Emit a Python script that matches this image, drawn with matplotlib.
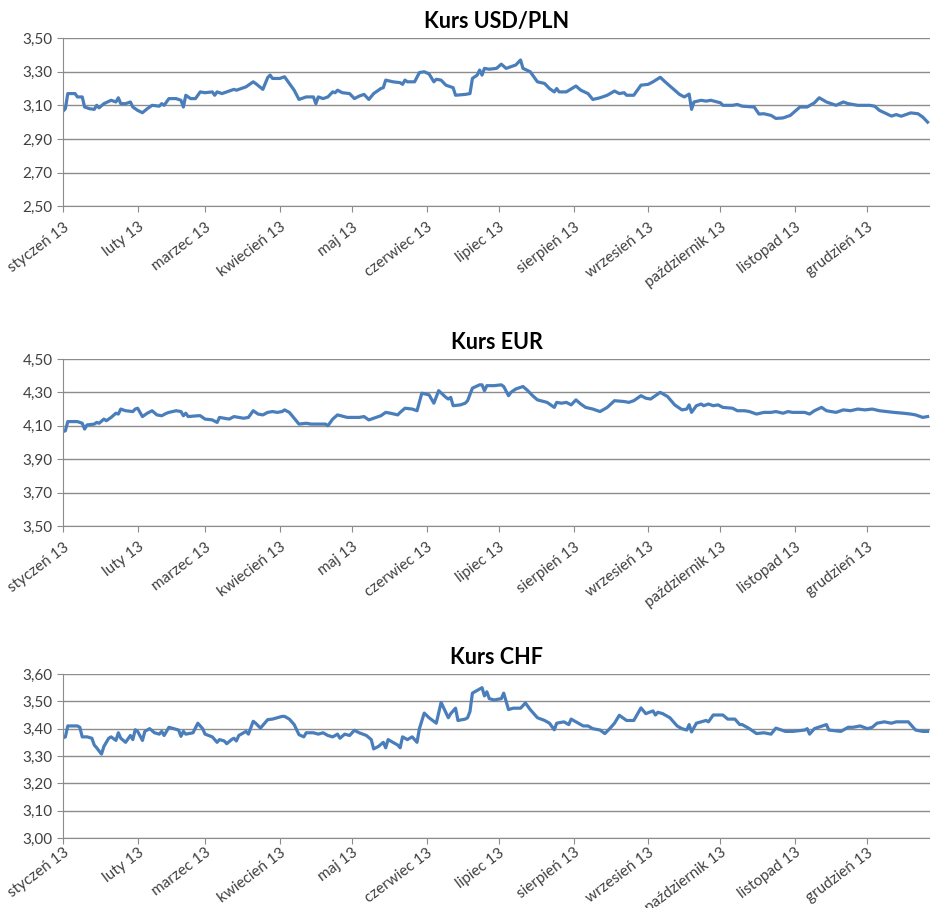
import numpy as np
import matplotlib.pyplot as plt
import matplotlib.transforms as mtransforms

plt.rcParams['font.family'] = ['Lato', 'DejaVu Sans']

# notowania (dzień roku liczony od 1 stycznia 2013, kurs)
usd_day = [0, 1, 2, 5, 6, 8, 9, 11, 13, 14, 15, 17, 20, 22, 23, 24, 26, 28, 29, 31,
           33, 35, 37, 40, 41, 42, 44, 47, 49, 50, 51, 53, 55, 57, 59, 62, 63, 64, 66, 68,
           71, 72, 74, 76, 79, 80, 83, 85, 86, 87, 90, 92, 94, 96, 98, 101, 103, 104, 105, 106,
           108, 110, 112, 113, 114, 116, 119, 121, 123, 125, 127, 129, 132, 133, 134, 137, 140, 141, 142, 143,
           146, 148, 150, 152, 154, 155, 157, 159, 162, 163, 167, 169, 170, 172, 173, 174, 175, 177, 180, 182,
           184, 186, 188, 190, 191, 194, 197, 200, 202, 204, 205, 206, 209, 213, 215, 218, 220, 223, 226, 229,
           231, 233, 234, 237, 240, 243, 245, 248, 250, 254, 256, 258, 260, 261, 262, 265, 267, 269, 273, 274,
           278, 280, 282, 287, 289, 291, 294, 296, 299, 302, 306, 309, 312, 314, 317, 319, 321, 324, 326, 330,
           335, 337, 339, 344, 346, 348, 352, 355, 357, 359]
usd_val = [3.065, 3.08, 3.17, 3.17, 3.15, 3.15, 3.09, 3.08, 3.076, 3.10, 3.085, 3.11, 3.13, 3.12, 3.145, 3.11, 3.11, 3.12, 3.09, 3.07,
           3.056, 3.08, 3.10, 3.095, 3.11, 3.10, 3.14, 3.14, 3.13, 3.09, 3.16, 3.14, 3.14, 3.18, 3.175, 3.18, 3.16, 3.18, 3.17, 3.18,
           3.195, 3.19, 3.20, 3.21, 3.24, 3.23, 3.195, 3.265, 3.28, 3.26, 3.26, 3.27, 3.23, 3.19, 3.135, 3.15, 3.15, 3.15, 3.11, 3.15,
           3.14, 3.15, 3.18, 3.175, 3.19, 3.175, 3.17, 3.14, 3.155, 3.165, 3.135, 3.17, 3.20, 3.205, 3.25, 3.24, 3.235, 3.225, 3.25, 3.24,
           3.24, 3.295, 3.30, 3.287, 3.24, 3.255, 3.25, 3.22, 3.205, 3.16, 3.165, 3.17, 3.26, 3.28, 3.31, 3.28, 3.32, 3.315, 3.32, 3.345,
           3.32, 3.33, 3.34, 3.37, 3.32, 3.30, 3.24, 3.23, 3.20, 3.18, 3.20, 3.18, 3.18, 3.215, 3.19, 3.17, 3.135, 3.145, 3.16, 3.185,
           3.17, 3.175, 3.16, 3.16, 3.22, 3.225, 3.24, 3.267, 3.24, 3.19, 3.165, 3.15, 3.167, 3.076, 3.12, 3.13, 3.125, 3.13, 3.115, 3.10,
           3.10, 3.105, 3.095, 3.09, 3.048, 3.05, 3.04, 3.022, 3.025, 3.04, 3.09, 3.09, 3.115, 3.145, 3.12, 3.11, 3.10, 3.12, 3.11, 3.10,
           3.10, 3.095, 3.07, 3.036, 3.045, 3.035, 3.055, 3.05, 3.03, 3.00]

eur_day = [0, 1, 2, 4, 6, 8, 9, 10, 13, 14, 15, 17, 18, 20, 22, 23, 24, 26, 29, 30,
           31, 33, 35, 37, 39, 41, 43, 44, 47, 49, 50, 51, 52, 56, 57, 59, 62, 64, 65, 67,
           69, 71, 73, 75, 77, 79, 81, 83, 85, 87, 89, 91, 92, 94, 96, 98, 101, 103, 106, 109,
           110, 112, 114, 118, 121, 123, 125, 127, 130, 132, 134, 136, 139, 140, 142, 145, 147, 149, 152, 154,
           156, 159, 160, 161, 162, 165, 167, 168, 170, 173, 174, 175, 176, 179, 182, 183, 185, 186, 188, 191,
           193, 195, 197, 201, 204, 205, 207, 209, 211, 213, 215, 217, 220, 223, 226, 229, 233, 235, 237, 240,
           242, 244, 246, 248, 251, 254, 257, 259, 260, 261, 263, 265, 266, 268, 270, 272, 274, 278, 280, 283,
           285, 288, 291, 294, 296, 299, 301, 303, 308, 310, 312, 315, 317, 321, 324, 327, 330, 333, 336, 339,
           342, 345, 349, 352, 354, 357, 359]
eur_val = [4.065, 4.07, 4.125, 4.125, 4.125, 4.115, 4.08, 4.105, 4.11, 4.12, 4.115, 4.14, 4.13, 4.15, 4.175, 4.17, 4.20, 4.19, 4.185, 4.20,
           4.205, 4.155, 4.175, 4.19, 4.165, 4.16, 4.175, 4.18, 4.19, 4.185, 4.16, 4.175, 4.155, 4.16, 4.16, 4.14, 4.135, 4.12, 4.15, 4.145,
           4.14, 4.155, 4.15, 4.145, 4.15, 4.19, 4.17, 4.165, 4.18, 4.185, 4.18, 4.185, 4.195, 4.18, 4.145, 4.11, 4.115, 4.11, 4.11, 4.11,
           4.10, 4.14, 4.165, 4.15, 4.15, 4.15, 4.155, 4.135, 4.15, 4.16, 4.18, 4.175, 4.165, 4.18, 4.205, 4.20, 4.19, 4.295, 4.285, 4.235,
           4.31, 4.27, 4.26, 4.27, 4.22, 4.225, 4.235, 4.25, 4.325, 4.345, 4.345, 4.31, 4.34, 4.34, 4.345, 4.335, 4.28, 4.30, 4.32, 4.335,
           4.31, 4.28, 4.255, 4.24, 4.21, 4.24, 4.235, 4.24, 4.225, 4.255, 4.23, 4.21, 4.20, 4.185, 4.21, 4.25, 4.245, 4.24, 4.25, 4.28,
           4.265, 4.26, 4.28, 4.30, 4.275, 4.225, 4.195, 4.20, 4.225, 4.18, 4.22, 4.23, 4.22, 4.23, 4.22, 4.225, 4.21, 4.205, 4.19, 4.19,
           4.185, 4.17, 4.18, 4.18, 4.185, 4.175, 4.185, 4.18, 4.18, 4.17, 4.19, 4.21, 4.19, 4.18, 4.195, 4.19, 4.20, 4.195, 4.20, 4.19,
           4.185, 4.18, 4.175, 4.17, 4.165, 4.15, 4.155]

chf_day = [0, 1, 2, 4, 6, 7, 8, 10, 12, 13, 14, 16, 17, 19, 20, 22, 23, 24, 26, 28,
           29, 30, 31, 33, 34, 36, 38, 40, 41, 42, 44, 46, 48, 49, 50, 51, 54, 56, 58, 59,
           62, 64, 65, 67, 68, 70, 71, 72, 73, 75, 76, 77, 79, 80, 82, 85, 87, 89, 91, 92,
           94, 96, 98, 100, 101, 104, 106, 108, 110, 112, 114, 115, 117, 119, 121, 123, 126, 128, 129, 131,
           133, 134, 135, 137, 139, 140, 141, 143, 145, 147, 148, 150, 152, 155, 157, 160, 161, 163, 164, 167,
           168, 169, 170, 173, 174, 175, 176, 177, 179, 182, 183, 184, 185, 187, 190, 192, 194, 197, 200, 202,
           204, 205, 208, 210, 211, 213, 216, 218, 220, 223, 225, 227, 229, 231, 234, 237, 240, 242, 245, 246,
           247, 249, 252, 255, 257, 259, 260, 261, 263, 265, 267, 268, 270, 274, 276, 279, 281, 282, 285, 288,
           291, 294, 296, 300, 303, 308, 309, 310, 312, 317, 318, 323, 326, 328, 331, 334, 336, 338, 341, 344,
           346, 351, 354, 357, 359]
chf_val = [3.366, 3.37, 3.41, 3.41, 3.41, 3.405, 3.37, 3.37, 3.365, 3.34, 3.33, 3.307, 3.335, 3.365, 3.37, 3.357, 3.385, 3.365, 3.35, 3.375,
           3.36, 3.396, 3.39, 3.357, 3.39, 3.40, 3.385, 3.38, 3.39, 3.375, 3.405, 3.40, 3.395, 3.372, 3.39, 3.38, 3.385, 3.42, 3.40, 3.38,
           3.37, 3.35, 3.36, 3.355, 3.345, 3.36, 3.365, 3.355, 3.375, 3.385, 3.39, 3.38, 3.427, 3.42, 3.402, 3.433, 3.435, 3.44, 3.445, 3.445,
           3.435, 3.415, 3.378, 3.37, 3.385, 3.385, 3.38, 3.385, 3.375, 3.37, 3.38, 3.365, 3.38, 3.375, 3.394, 3.385, 3.375, 3.36, 3.326, 3.335,
           3.35, 3.33, 3.36, 3.35, 3.34, 3.33, 3.37, 3.36, 3.37, 3.35, 3.40, 3.457, 3.44, 3.42, 3.496, 3.44, 3.455, 3.475, 3.43, 3.435,
           3.44, 3.463, 3.53, 3.545, 3.55, 3.52, 3.535, 3.51, 3.505, 3.51, 3.53, 3.50, 3.47, 3.475, 3.475, 3.494, 3.47, 3.44, 3.43, 3.42,
           3.396, 3.42, 3.425, 3.415, 3.435, 3.425, 3.41, 3.41, 3.40, 3.395, 3.382, 3.40, 3.42, 3.449, 3.43, 3.43, 3.476, 3.455, 3.465, 3.45,
           3.46, 3.455, 3.44, 3.41, 3.40, 3.395, 3.415, 3.388, 3.42, 3.425, 3.43, 3.425, 3.45, 3.45, 3.435, 3.435, 3.415, 3.415, 3.40, 3.382,
           3.385, 3.38, 3.402, 3.39, 3.39, 3.395, 3.40, 3.38, 3.40, 3.415, 3.395, 3.39, 3.405, 3.405, 3.41, 3.40, 3.405, 3.42, 3.425, 3.42,
           3.425, 3.425, 3.395, 3.39, 3.39]

months = ['styczeń 13', 'luty 13', 'marzec 13', 'kwiecień 13', 'maj 13', 'czerwiec 13',
          'lipiec 13', 'sierpień 13', 'wrzesień 13', 'październik 13', 'listopad 13', 'grudzień 13']

titles = ['Kurs USD/PLN', 'Kurs EUR', 'Kurs CHF']
yticks_usd = [2.50, 2.70, 2.90, 3.10, 3.30, 3.50]
yticks_eur = [3.50, 3.70, 3.90, 4.10, 4.30, 4.50]
yticks_chf = [3.00, 3.10, 3.20, 3.30, 3.40, 3.50, 3.60]

start = np.datetime64('2013-01-01')
month_starts = np.array(['2013-%02d-01' % m for m in range(1, 13)], dtype='datetime64[D]')

series = [(usd_day, usd_val, yticks_usd), (eur_day, eur_val, yticks_eur), (chf_day, chf_val, yticks_chf)]
# [left, bottom, width, height] for each panel
boxes = [[0.0677, 0.773, 0.9323, 0.185],
         [0.0677, 0.4207, 0.9323, 0.184],
         [0.0677, 0.0771, 0.9323, 0.1806]]
label_pads = [6, 6, 1.5]

fig = plt.figure(figsize=(9.3, 9.08), dpi=100)
grid_c = '#8c8c8c'
# shift month labels a few pixels right so their ends sit at the ticks
shift = mtransforms.ScaledTranslation(4 / 100, 0, fig.dpi_scale_trans)
for (days, vals, yt), box, title, lp in zip(series, boxes, titles, label_pads):
    ax = fig.add_axes(box)
    dates = start + np.array(days)
    ax.plot(dates, vals, color='#4a7ebb', lw=2.3, solid_joinstyle='round')
    ax.set_xlim(start, start + 360)
    ax.set_ylim(yt[0], yt[-1])
    ax.set_yticks(yt)
    ax.set_yticklabels([('%.2f' % v).replace('.', ',') for v in yt])
    ax.set_xticks(month_starts)
    ax.set_xticklabels(months, rotation=37, ha='right', va='top', rotation_mode='anchor')
    for lbl in ax.get_xticklabels():
        lbl.set_transform(lbl.get_transform() + shift)
    ax.grid(axis='y', color=grid_c, lw=1)
    ax.set_axisbelow(True)
    for s in ['top', 'right']:
        ax.spines[s].set_visible(False)
    for s in ['left', 'bottom']:
        ax.spines[s].set_color(grid_c)
    ax.tick_params(axis='both', colors=grid_c, labelcolor='#404040', labelsize=11, length=4)
    ax.tick_params(axis='x', pad=lp)
    ax.set_title(title, fontsize=15.5, fontweight='bold', pad=7)

fig.savefig('out.png', dpi=100, facecolor='white')
